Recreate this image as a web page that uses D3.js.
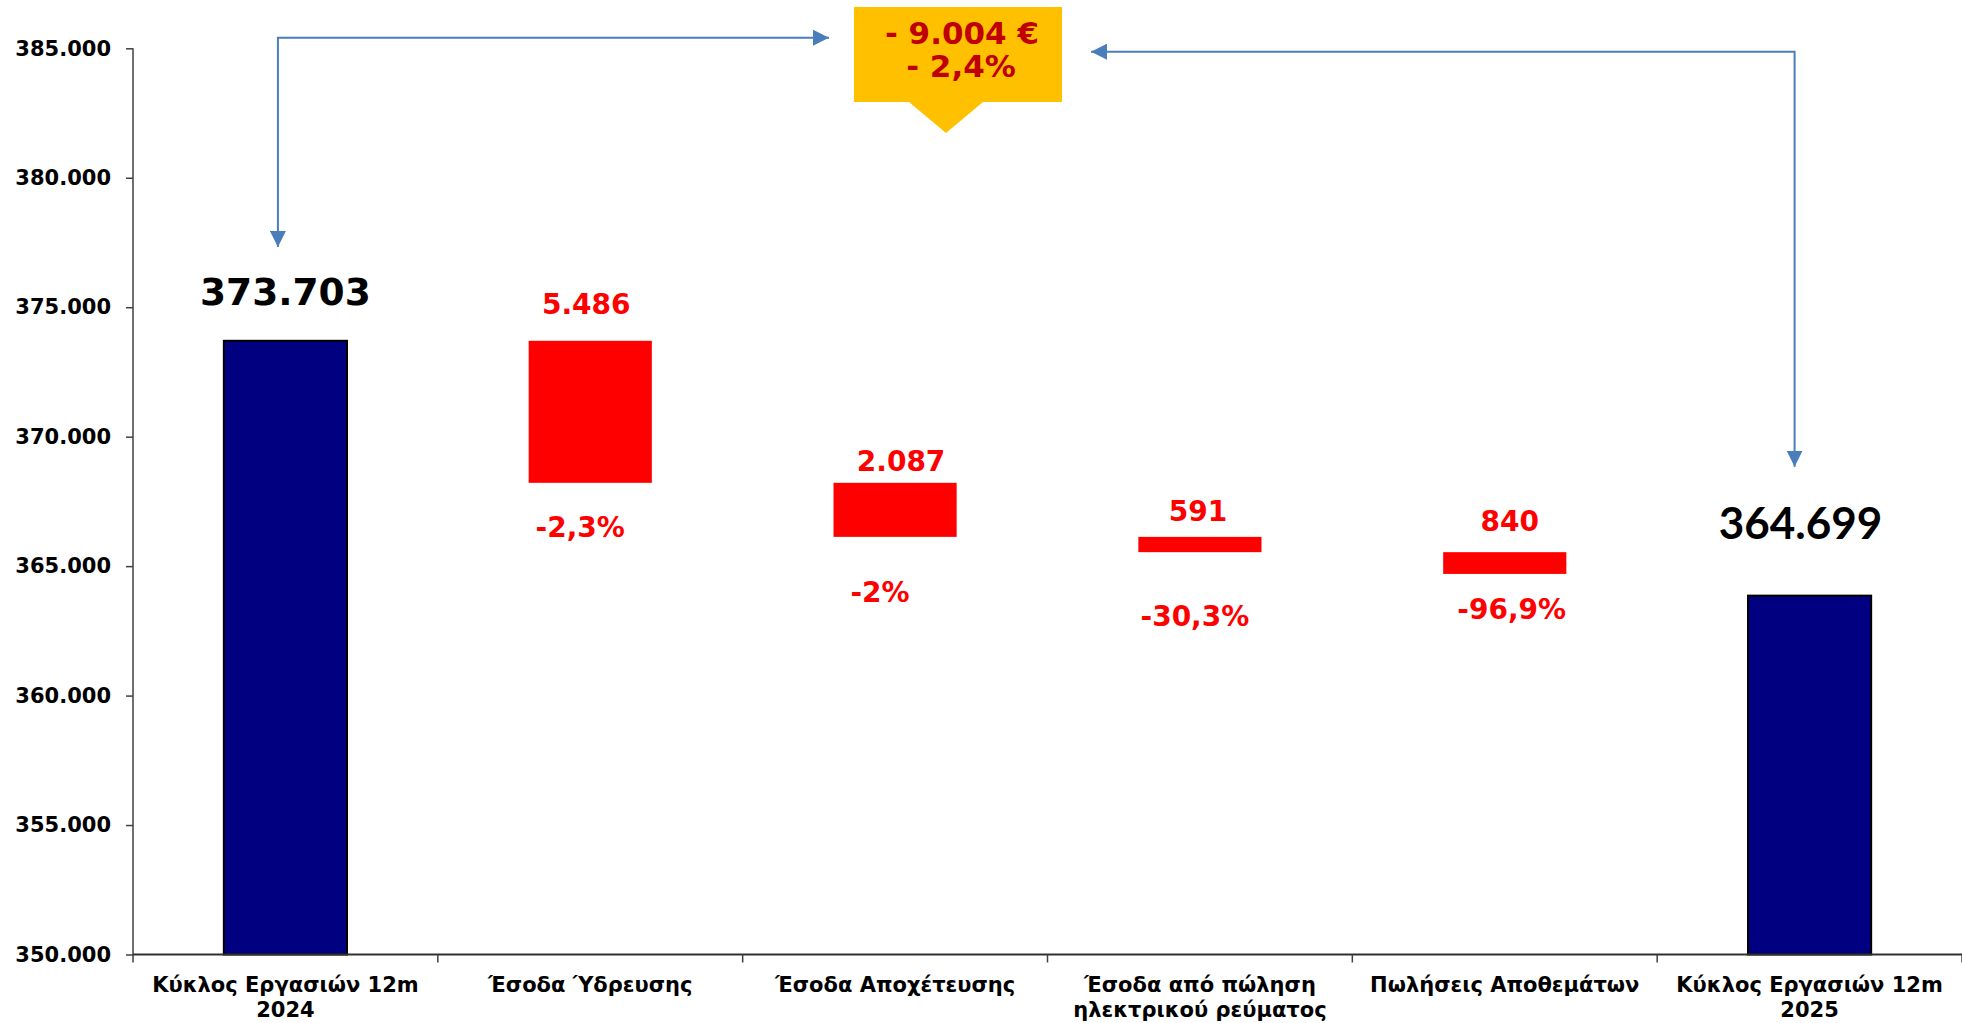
<!DOCTYPE html>
<html>
<head>
<meta charset="utf-8">
<script src="https://cdn.jsdelivr.net/npm/d3@7"></script>
<style>
    body { margin: 0; background: #fff; }
    svg { display: block; }
    text { font-family: "DejaVu Sans", Verdana, sans-serif; font-weight: bold; }
</style>
</head>
<body>
<svg id="chart" width="1962" height="1023"></svg>
<script>
// data
const categories = [
    ["Κύκλος Εργασιών 12m", "2024"],
    ["Έσοδα Ύδρευσης"],
    ["Έσοδα Αποχέτευσης"],
    ["Έσοδα από πώληση", "ηλεκτρικού ρεύματος"],
    ["Πωλήσεις Αποθεμάτων"],
    ["Κύκλος Εργασιών 12m", "2025"]
];
const startTotal = 373703;
const decreases = [5486, 2087, 591, 840];
const pctLabels = ["-2,3%", "-2%", "-30,3%", "-96,9%"];
const endBarDrawn = 363860; // height of the last bar as it is drawn in the picture
const yTicks = [350000, 355000, 360000, 365000, 370000, 375000, 380000, 385000];

// manual label placement (like in the original spreadsheet chart)
const valueGap = [27, 12, 16, 21];
const valueDx = [-4, 6, -2, 5];
const pctGap = [54, 65, 74, 45];
const pctDx = [-10, -15, -5, 7];

const W = 1962, H = 1023;
const svg = d3.select("#chart");

const loc = d3.formatLocale({ decimal: ",", thousands: ".", grouping: [3], currency: ["", "€"] });
const fmt = loc.format(",");

let x = d3.scaleBand()
    .domain(d3.range(categories.length))
    .range([133, 1962])
    .paddingInner(0.596)
    .paddingOuter(0.298);
let y = d3.scaleLinear()
    .domain([350000, 385000])
    .range([954.5, 48.3]);

// waterfall steps
let steps = [];
let running = startTotal;
decreases.forEach((d, i) => {
    steps.push({ i: i + 1, top: running, bottom: running - d, value: d });
    running -= d;
});
const endTotal = running;
const totals = [
    { i: 0, value: startTotal, label: startTotal },
    { i: categories.length - 1, value: endBarDrawn, label: endTotal }
];

// y axis
let yAxis = d3.axisLeft(y).tickValues(yTicks).tickFormat(fmt).tickSizeInner(7).tickSizeOuter(0).tickPadding(15);
let gy = svg.append("g").attr("transform", "translate(133,0)").call(yAxis);
gy.select(".domain").remove();
gy.selectAll(".tick line").attr("stroke", "#404040").attr("stroke-width", 1.5);
gy.selectAll(".tick text").attr("font-size", 21).attr("fill", "#000");
svg.append("line")
    .attr("x1", 133).attr("x2", 133)
    .attr("y1", y(385000)).attr("y2", y(350000) + 8)
    .attr("stroke", "#404040").attr("stroke-width", 1.5);

// bars
svg.append("g").selectAll("rect")
    .data(steps)
    .join("rect")
    .attr("x", d => x(d.i))
    .attr("width", x.bandwidth())
    .attr("y", d => y(d.top))
    .attr("height", d => y(d.bottom) - y(d.top))
    .attr("fill", "#ff0000");

svg.append("g").selectAll("rect")
    .data(totals)
    .join("rect")
    .attr("x", d => x(d.i))
    .attr("width", x.bandwidth())
    .attr("y", d => y(d.value))
    .attr("height", d => y(350000) - y(d.value))
    .attr("fill", "#000080")
    .attr("stroke", "#000")
    .attr("stroke-width", 2);

// x axis
let step = x.step();
svg.append("line")
    .attr("x1", 133).attr("x2", W)
    .attr("y1", y(350000)).attr("y2", y(350000))
    .attr("stroke", "#303030").attr("stroke-width", 2);
svg.append("g").selectAll("line")
    .data(d3.range(1, categories.length + 1))
    .join("line")
    .attr("x1", i => 133 + i * step).attr("x2", i => 133 + i * step)
    .attr("y1", y(350000)).attr("y2", y(350000) + 8)
    .attr("stroke", "#404040").attr("stroke-width", 1.5);

let cx = i => x(i) + x.bandwidth() / 2;

svg.append("g").selectAll("text")
    .data(categories)
    .join("text")
    .attr("text-anchor", "middle")
    .attr("font-size", 21)
    .attr("fill", "#000")
    .each(function(lines, i) {
        d3.select(this).selectAll("tspan")
            .data(lines)
            .join("tspan")
            .attr("x", cx(i))
            .attr("y", (l, k) => 992 + k * 25)
            .text(l => l);
    });

// value labels
svg.append("g").selectAll("text")
    .data(steps)
    .join("text")
    .attr("x", (d, k) => cx(d.i) + valueDx[k])
    .attr("y", (d, k) => y(d.top) - valueGap[k])
    .attr("text-anchor", "middle")
    .attr("font-size", 28)
    .attr("fill", "#ff0000")
    .text(d => fmt(d.value));

svg.append("g").selectAll("text")
    .data(steps)
    .join("text")
    .attr("x", (d, k) => cx(d.i) + pctDx[k])
    .attr("y", (d, k) => y(d.bottom) + pctGap[k])
    .attr("text-anchor", "middle")
    .attr("font-size", 28)
    .attr("fill", "#ff0000")
    .text((d, k) => pctLabels[k]);

svg.append("text")
    .attr("x", cx(0))
    .attr("y", y(totals[0].value) - 36)
    .attr("text-anchor", "middle")
    .attr("font-size", 37.5)
    .attr("fill", "#000")
    .text(fmt(totals[0].label));

svg.append("text")
    .attr("x", cx(categories.length - 1) - 9)
    .attr("y", y(totals[1].value) - 57)
    .attr("text-anchor", "middle")
    .style("font-family", "Lato, 'Open Sans', sans-serif")
    .attr("font-size", 44)
    .attr("fill", "#000")
    .text(fmt(totals[1].label));

// callout with the total change
const change = endTotal - startTotal;
const changePct = change / startTotal * 100;
const boxX = 854, boxY = 7, boxW = 208, boxH = 95;
svg.append("path")
    .attr("d", `M${boxX},${boxY}H${boxX + boxW}V${boxY + boxH}H983L946,133L909,${boxY + boxH}H${boxX}Z`)
    .attr("fill", "#ffc000");
svg.append("text")
    .attr("x", boxX + boxW / 2 + 4).attr("y", 44)
    .attr("text-anchor", "middle")
    .attr("font-size", 31)
    .attr("fill", "#c00000")
    .text("- " + fmt(Math.abs(change)) + " €");
svg.append("text")
    .attr("x", boxX + boxW / 2 + 3).attr("y", 77)
    .attr("text-anchor", "middle")
    .attr("font-size", 31)
    .attr("fill", "#c00000")
    .text("- " + loc.format(",.1f")(Math.abs(changePct)) + "%");

// arrows
const arrowColor = "#4a7ebb";
svg.append("defs").append("marker")
    .attr("id", "head")
    .attr("viewBox", "0 0 10 10")
    .attr("refX", 10).attr("refY", 5)
    .attr("markerWidth", 8).attr("markerHeight", 8)
    .attr("markerUnits", "strokeWidth")
    .attr("orient", "auto-start-reverse")
    .append("path")
    .attr("d", "M0,0L10,5L0,10Z")
    .attr("fill", arrowColor);

let leftX = cx(0) - 7.5;
svg.append("path")
    .attr("d", `M${leftX},247V37.7H829`)
    .attr("fill", "none")
    .attr("stroke", arrowColor).attr("stroke-width", 2)
    .attr("marker-start", "url(#head)")
    .attr("marker-end", "url(#head)");

let rightX = cx(categories.length - 1) - 15;
svg.append("path")
    .attr("d", `M1091,51.7H${rightX}V466.7`)
    .attr("fill", "none")
    .attr("stroke", arrowColor).attr("stroke-width", 2)
    .attr("marker-start", "url(#head)")
    .attr("marker-end", "url(#head)");
</script>
</body>
</html>
